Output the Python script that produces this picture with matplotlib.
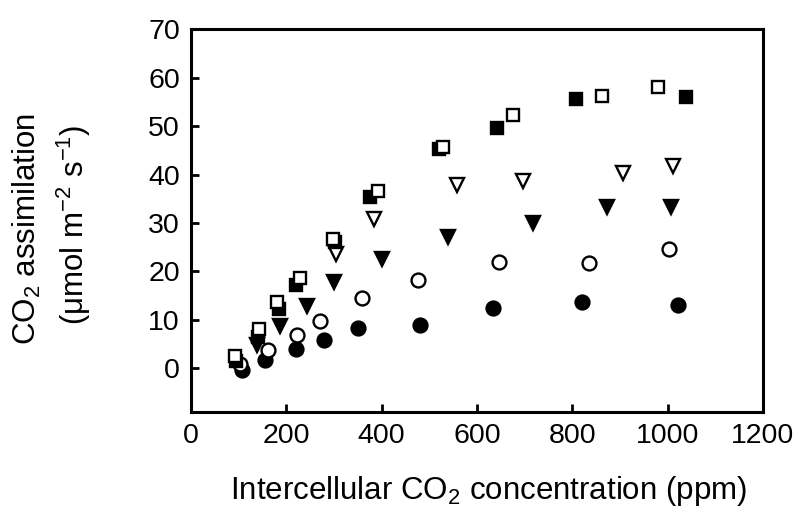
import matplotlib
matplotlib.use("Agg")
import matplotlib.pyplot as plt

# intercellular CO2 (ppm) and assimilation for each treatment
fsq_x = [94, 140, 184, 221, 302, 376, 520, 643, 807, 1039]
fsq_y = [1.5, 6.5, 12.3, 17.2, 26.0, 35.4, 45.2, 49.6, 55.6, 55.9]
osq_x = [92, 142, 180, 229, 297, 393, 529, 676, 863, 980]
osq_y = [2.6, 8.1, 13.6, 18.6, 26.6, 36.6, 45.7, 52.2, 56.2, 58.1]
otri_x = [304, 383, 557, 697, 906, 1011]
otri_y = [23.5, 30.8, 37.9, 38.7, 40.4, 41.8]
ftri_x = [138, 186, 244, 299, 400, 540, 717, 872, 1007]
ftri_y = [4.8, 8.8, 12.8, 17.8, 22.6, 27.2, 30.0, 33.2, 33.2]
ocir_x = [103, 162, 222, 270, 358, 477, 647, 834, 1003]
ocir_y = [1.0, 3.8, 6.9, 9.7, 14.5, 18.3, 21.9, 21.7, 24.6]
fcir_x = [106, 155, 220, 278, 350, 480, 634, 821, 1021]
fcir_y = [-0.3, 1.8, 4.0, 5.9, 8.3, 9.0, 12.4, 13.6, 13.0]

xticks = [0, 200, 400, 600, 800, 1000, 1200]
yticks = [0, 10, 20, 30, 40, 50, 60, 70]

plt.rcParams['font.family'] = ['Liberation Sans', 'DejaVu Sans']
plt.rcParams['mathtext.fontset'] = 'custom'
plt.rcParams['mathtext.rm'] = 'Liberation Sans'
plt.rcParams['mathtext.it'] = 'Liberation Sans:italic'

fig = plt.figure(figsize=(8.01, 5.2), dpi=100)
ax = fig.add_axes([0.2385, 0.2077, 0.714, 0.7363])

ms = 9.5
ew = 1.7
ax.plot(fcir_x, fcir_y, 'o', ms=ms + 0.5, mfc='black', mec='black', mew=ew)
ax.plot(ocir_x, ocir_y, 'o', ms=ms + 0.5, mfc='white', mec='black', mew=ew)
ax.plot(ftri_x, ftri_y, 'v', ms=ms + 1, mfc='black', mec='black', mew=ew)
ax.plot(otri_x, otri_y, 'v', ms=ms + 1, mfc='white', mec='black', mew=ew)
ax.plot(fsq_x, fsq_y, 's', ms=ms - 1, mfc='black', mec='black', mew=ew)
ax.plot(osq_x, osq_y, 's', ms=ms - 1, mfc='white', mec='black', mew=ew)

ax.set_xlim(0, 1200)
ax.set_ylim(-9, 70)
ax.set_xticks(xticks)
ax.set_yticks(yticks)
ax.tick_params(direction='in', length=6, width=2, labelsize=20.5, pad=8)
for s in ax.spines.values():
    s.set_linewidth(2.2)

ax.set_xlabel(r'Intercellular CO$_2$ concentration (ppm)', fontsize=22.5)
ax.xaxis.set_label_coords(0.52, -0.163)
fig.text(0.034, 0.56, r'CO$_2$ assimilation', rotation=90, fontsize=22.5,
         ha='center', va='center')
fig.text(0.092, 0.567, r'(μmol m$^{-2}$ s$^{-1}$)', rotation=90, fontsize=22.5,
         ha='center', va='center')

fig.savefig('out.png', dpi=100)
